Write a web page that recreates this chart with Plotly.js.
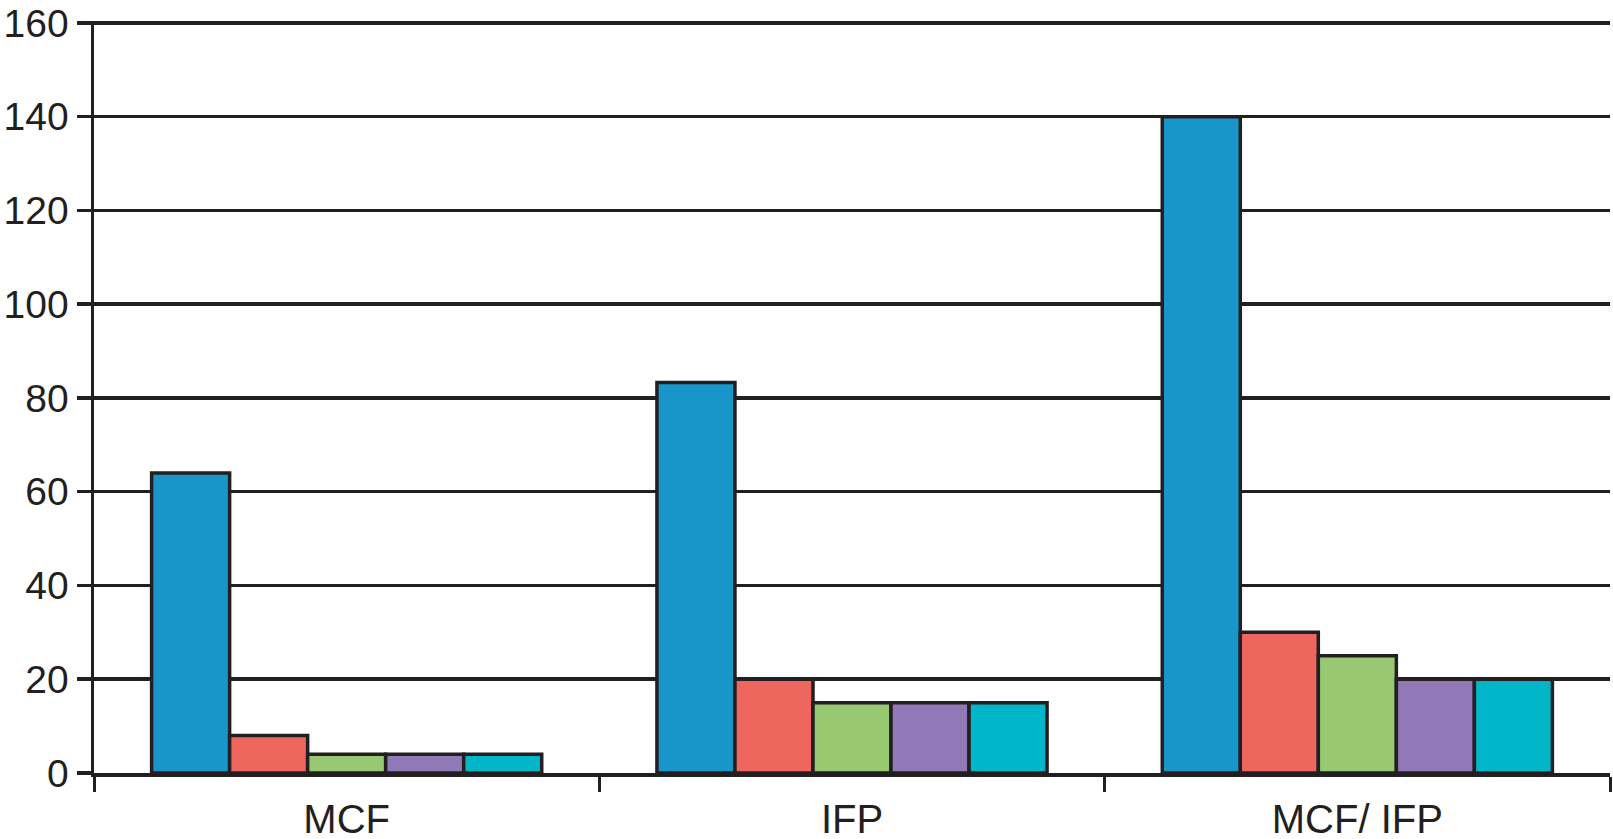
<!DOCTYPE html>
<html>
<head>
<meta charset="utf-8">
<script src="https://cdn.plot.ly/plotly-3.0.1.min.js"></script>
<style>
  html, body { margin: 0; padding: 0; background: #ffffff; }
  #chart { width: 1613px; height: 839px; }
</style>
</head>
<body>
<div id="chart"></div>
<script>
const categories = ["MCF", "IFP", "MCF/ IFP"];
const series1 = [64, 83.3, 140];
const series2 = [8, 20, 30];
const series3 = [4, 15, 25];
const series4 = [4, 15, 20];
const series5 = [4, 15, 20];
const yTickValues = [0, 20, 40, 60, 80, 100, 120, 140, 160];

const allSeries = [series1, series2, series3, series4, series5];
const colors = ["#1896c9", "#ef665f", "#99c873", "#9079b6", "#00b6c8"];
const ink = "#231f20";

const traces = allSeries.map((vals, i) => ({
  type: "bar",
  x: categories,
  y: vals,
  marker: { color: colors[i], line: { color: ink, width: 3.5 } },
  hoverinfo: "skip",
  showlegend: false
}));

const layout = {
  width: 1613,
  height: 839,
  margin: { l: 94, r: 3, t: 21, b: 66 },
  paper_bgcolor: "#ffffff",
  plot_bgcolor: "#ffffff",
  barmode: "group",
  bargap: 0.228,
  bargroupgap: 0,
  font: { family: "Liberation Sans, Arial, sans-serif", color: ink },
  xaxis: {
    type: "category",
    showline: true,
    linecolor: ink,
    linewidth: 3.5,
    ticks: "outside",
    tickson: "boundaries",
    ticklen: 15,
    tickwidth: 3,
    tickcolor: ink,
    ticklabelstandoff: 8,
    showgrid: false,
    zeroline: false,
    tickfont: { size: 40, color: ink },
    fixedrange: true
  },
  yaxis: {
    range: [0, 160.4],
    tickvals: yTickValues,
    ticktext: yTickValues.map(String),
    showline: true,
    linecolor: ink,
    linewidth: 3.5,
    ticks: "outside",
    ticklen: 14,
    tickwidth: 3.5,
    tickcolor: ink,
    showgrid: true,
    gridcolor: ink,
    gridwidth: 3.5,
    zeroline: false,
    tickfont: { size: 39, color: ink },
    fixedrange: true
  }
};

Plotly.newPlot("chart", traces, layout, { displayModeBar: false, staticPlot: true });
</script>
</body>
</html>
